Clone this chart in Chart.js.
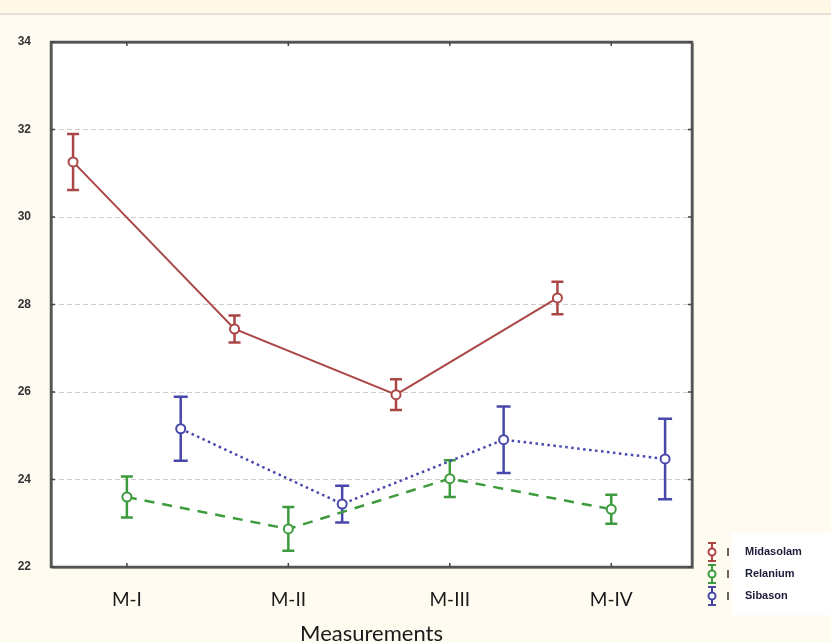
<!DOCTYPE html>
<html>
<head>
<meta charset="utf-8">
<script src="https://cdn.jsdelivr.net/npm/chart.js@4.4.1/dist/chart.umd.min.js"></script>
<style>
  html, body { margin: 0; padding: 0; background: #fffbf1; }
  canvas { display: block; }
</style>
</head>
<body>
<canvas id="chart" width="831" height="642"></canvas>
<script>
// Measurement points and group means with error half-widths
const categories = ['M-I', 'M-II', 'M-III', 'M-IV'];
const seriesNames = ['Midasolam', 'Relanium', 'Sibason'];
const midasolam = [31.26, 27.44, 25.94, 28.15];
const midasolamErr = [0.64, 0.31, 0.35, 0.37];
const relanium = [23.60, 22.87, 24.02, 23.32];
const relaniumErr = [0.47, 0.50, 0.42, 0.33];
const sibason = [25.16, 23.44, 24.91, 24.47];
const sibasonErr = [0.73, 0.42, 0.76, 0.92];
const yTicks = [22, 24, 26, 28, 30, 32, 34];

const COLORS = ['#ab4646', '#3d9b3d', '#4848ac'];
const OFFSETS = [-1 / 3, 0, 1 / 3];
const values = [midasolam, relanium, sibason];
const errors = [midasolamErr, relaniumErr, sibasonErr];
const dashes = [[], [10, 8], [2.5, 3.5]];

function points(vals, off) {
  return vals.map((v, i) => ({ x: i + off, y: v }));
}

const datasets = values.map((vals, k) => ({
  label: seriesNames[k],
  data: points(vals, OFFSETS[k]),
  borderColor: COLORS[k],
  borderWidth: k === 0 ? 2 : 2.5,
  borderDash: dashes[k],
  pointRadius: 4.5,
  pointBorderWidth: 2,
  pointBackgroundColor: '#ffffff',
  pointBorderColor: COLORS[k],
  tension: 0,
  fill: false
}));

// Page background, white plot area, frame, inner tick marks, error bars and legend
const decorations = {
  id: 'decorations',
  beforeDraw(chart) {
    const ctx = chart.ctx;
    const a = chart.chartArea;
    ctx.save();
    ctx.fillStyle = '#fffbf1';
    ctx.fillRect(0, 0, chart.width, chart.height);
    ctx.fillStyle = '#fff8e6';
    ctx.fillRect(0, 0, chart.width, 13);
    ctx.fillStyle = '#e4e0d6';
    ctx.fillRect(0, 13, chart.width, 2);
    ctx.fillStyle = '#ffffff';
    ctx.fillRect(a.left, a.top, a.right - a.left, a.bottom - a.top);
    // legend box
    ctx.fillRect(732, 533, chart.width - 732, 82);
    ctx.restore();
  },
  beforeDatasetsDraw(chart) {
    const ctx = chart.ctx;
    const xs = chart.scales.x, ys = chart.scales.y;
    ctx.save();
    values.forEach((vals, k) => {
      ctx.strokeStyle = COLORS[k];
      ctx.lineWidth = 2.5;
      const cap = k === 2 ? 7 : 6;
      vals.forEach((v, i) => {
        const px = xs.getPixelForValue(i + OFFSETS[k]);
        const top = ys.getPixelForValue(v + errors[k][i]);
        const bot = ys.getPixelForValue(v - errors[k][i]);
        ctx.beginPath();
        ctx.moveTo(px, top); ctx.lineTo(px, bot);
        ctx.moveTo(px - cap, top); ctx.lineTo(px + cap, top);
        ctx.moveTo(px - cap, bot); ctx.lineTo(px + cap, bot);
        ctx.stroke();
      });
    });
    ctx.restore();
  },
  afterDraw(chart) {
    const ctx = chart.ctx;
    const a = chart.chartArea;
    const xs = chart.scales.x, ys = chart.scales.y;
    ctx.save();
    // frame
    ctx.strokeStyle = '#a0a0a0';
    ctx.lineWidth = 1;
    ctx.strokeRect(a.left + 1.5, a.top + 1.5, a.right - a.left, a.bottom - a.top);
    ctx.strokeStyle = '#555555';
    ctx.lineWidth = 2.5;
    ctx.strokeRect(a.left, a.top, a.right - a.left, a.bottom - a.top);
    // inner tick marks
    ctx.lineWidth = 1.5;
    ctx.strokeStyle = '#444444';
    ctx.beginPath();
    yTicks.forEach(t => {
      const py = ys.getPixelForValue(t);
      ctx.moveTo(a.left, py); ctx.lineTo(a.left + 4, py);
      ctx.moveTo(a.right - 4, py); ctx.lineTo(a.right, py);
    });
    categories.forEach((c, i) => {
      const px = xs.getPixelForValue(i);
      ctx.moveTo(px, a.top); ctx.lineTo(px, a.top + 4);
      ctx.moveTo(px, a.bottom - 4); ctx.lineTo(px, a.bottom);
    });
    ctx.stroke();

    // legend
    const rows = [552, 574, 596];
    seriesNames.forEach((name, k) => {
      const cy = rows[k];
      const gx = 712;
      ctx.strokeStyle = COLORS[k];
      ctx.lineWidth = 2;
      ctx.beginPath();
      ctx.moveTo(gx, cy - 9); ctx.lineTo(gx, cy + 9);
      ctx.moveTo(gx - 4, cy - 9); ctx.lineTo(gx + 4, cy - 9);
      ctx.moveTo(gx - 4, cy + 9); ctx.lineTo(gx + 4, cy + 9);
      ctx.stroke();
      ctx.fillStyle = '#ffffff';
      ctx.beginPath();
      ctx.arc(gx, cy, 3.5, 0, Math.PI * 2);
      ctx.fill();
      ctx.stroke();
      ctx.strokeStyle = '#333333';
      ctx.lineWidth = 1.5;
      ctx.beginPath();
      ctx.moveTo(728, cy - 4); ctx.lineTo(728, cy + 4);
      ctx.stroke();
      ctx.fillStyle = '#1c1c3a';
      ctx.font = 'bold 11px "Liberation Sans"';
      ctx.textBaseline = 'middle';
      ctx.textAlign = 'left';
      ctx.fillText(name, 745, cy);
    });
    ctx.restore();
  }
};

new Chart(document.getElementById('chart'), {
  type: 'line',
  data: { datasets },
  plugins: [decorations],
  options: {
    responsive: false,
    animation: false,
    devicePixelRatio: 1,
    layout: { padding: { left: 0, top: 42, right: 139, bottom: 0 } },
    plugins: { legend: { display: false }, tooltip: { enabled: false } },
    scales: {
      x: {
        type: 'linear',
        min: -0.47,
        max: 3.5,
        afterBuildTicks(scale) {
          scale.ticks = categories.map((c, i) => ({ value: i }));
        },
        afterFit(scale) { scale.height = 75; },
        grid: { display: false, drawTicks: false },
        border: { display: false },
        ticks: {
          autoSkip: false,
          maxRotation: 0,
          padding: 21,
          color: '#1a1a1a',
          font: { family: 'Lato', size: 19 },
          callback: (v) => categories[v]
        },
        title: {
          display: true,
          text: 'Measurements',
          color: '#1a1a1a',
          font: { family: 'Lato', size: 22 },
          padding: { top: 0, bottom: -5 }
        }
      },
      y: {
        min: 22,
        max: 34,
        afterBuildTicks(scale) {
          scale.ticks = yTicks.map(v => ({ value: v }));
        },
        afterFit(scale) { scale.width = 51; },
        grid: {
          drawTicks: false,
          color: (c) => (c.tick && (c.tick.value === 22 || c.tick.value === 34)) ? 'rgba(0,0,0,0)' : '#cdcdcd',
          lineWidth: 1
        },
        border: { display: false, dash: [5, 3] },
        ticks: {
          padding: 20,
          color: '#333333',
          font: { family: 'Liberation Sans', size: 12, weight: 'bold' }
        }
      }
    }
  }
});
</script>
</body>
</html>
